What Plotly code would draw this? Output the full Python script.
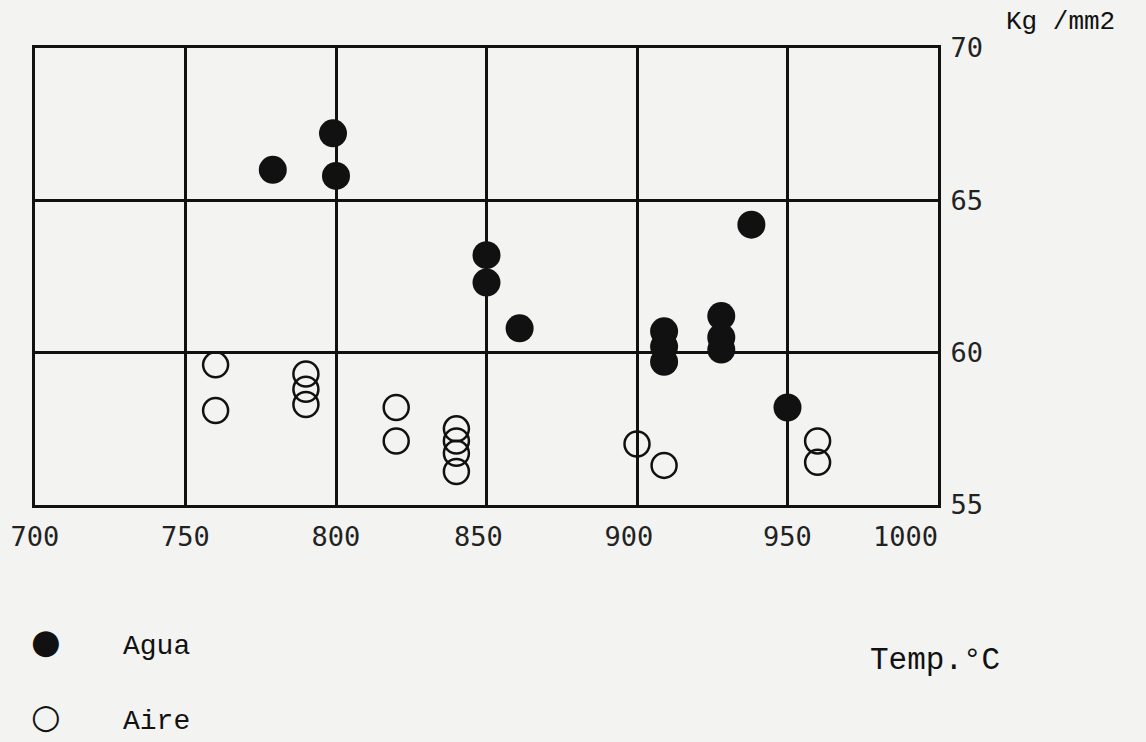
import plotly.graph_objects as go

# Data
agua_temp = [779, 799, 800, 850, 850, 861, 909, 909, 909, 928, 928, 928, 938, 950]
agua_kg = [66.0, 67.2, 65.8, 63.2, 62.3, 60.8, 60.7, 60.2, 59.7, 61.2, 60.5, 60.1, 64.2, 58.2]

aire_temp = [760, 760, 790, 790, 790, 820, 820, 840, 840, 840, 840, 900, 909, 960, 960]
aire_kg = [59.6, 58.1, 59.3, 58.8, 58.3, 58.2, 57.1, 57.5, 57.1, 56.7, 56.1, 57.0, 56.3, 57.1, 56.4]

x_ticks = [700, 750, 800, 850, 900, 950, 1000]
x_tick_labels = ["700", "750", "800", "850\u00a0", "900\u00a0", "950", "1000\u00a0\u00a0\u00a0\u00a0"]
y_ticks = [55, 60, 65, 70]
y_tick_labels = ["55", "60", "65", "70"]

series_names = ["Agua", "Aire"]
series_glyphs = ["\u25cf", "\u25cb"]

BG = "#f3f3f1"
INK = "#111111"
TYPE_FONT = "Liberation Mono"
NUM_FONT = "DejaVu Sans Mono"

# plot area in pixels: left 35, bottom 505, width 903, height 457
PL, PB, PW, PH = 35, 505, 903, 457


def px_x(p):
    return (p - PL) / PW


def px_y(p):
    return (PB - p) / PH


fig = go.Figure()
fig.add_trace(go.Scatter(
    x=agua_temp, y=agua_kg, mode="markers", name=series_names[0],
    marker=dict(symbol="circle", size=28, color=INK, line=dict(width=0)),
))
fig.add_trace(go.Scatter(
    x=aire_temp, y=aire_kg, mode="markers", name=series_names[1],
    marker=dict(symbol="circle-open", size=25, color=INK, line=dict(width=2.5, color=INK)),
))

# Legend drawn as text below the plot
legend_rows_px = [644, 719]
legend_annotations = []
for name, glyph, row in zip(series_names, series_glyphs, legend_rows_px):
    legend_annotations.append(dict(
        text=glyph, xref="paper", yref="paper", x=px_x(46), y=px_y(row - 3),
        xanchor="center", yanchor="middle", showarrow=False,
        font=dict(family="DejaVu Sans", size=34, color=INK)))
    legend_annotations.append(dict(
        text=name, xref="paper", yref="paper", x=px_x(121), y=px_y(row + 2),
        xanchor="left", yanchor="middle", showarrow=False,
        font=dict(family=TYPE_FONT, size=28, color=INK)))

fig.update_layout(
    width=1146, height=742,
    margin=dict(l=PL, r=1146 - PL - PW, t=PB - PH, b=742 - PB),
    paper_bgcolor=BG, plot_bgcolor=BG,
    showlegend=False,
    xaxis=dict(
        range=[700, 1000], tickvals=x_ticks, ticktext=x_tick_labels,
        showgrid=True, gridcolor=INK, gridwidth=2.8,
        showline=True, linecolor=INK, linewidth=3, mirror=True,
        ticks="", zeroline=False,
        tickfont=dict(family=NUM_FONT, size=27, color="#222222"),
        ticklabelstandoff=6,
    ),
    yaxis=dict(
        range=[55, 70], tickvals=y_ticks, ticktext=y_tick_labels,
        side="right",
        showgrid=True, gridcolor=INK, gridwidth=2.8,
        showline=True, linecolor=INK, linewidth=3, mirror=True,
        ticks="", zeroline=False,
        tickfont=dict(family=NUM_FONT, size=27, color="#222222"),
        ticklabelstandoff=4,
    ),
    annotations=legend_annotations + [
        dict(text="Kg /mm2", xref="paper", yref="paper", x=px_x(1004), y=px_y(22),
             xanchor="left", yanchor="middle", showarrow=False,
             font=dict(family=TYPE_FONT, size=26, color=INK)),
        dict(text="Temp.°C", xref="paper", yref="paper", x=px_x(868), y=px_y(660),
             xanchor="left", yanchor="middle", showarrow=False,
             font=dict(family=TYPE_FONT, size=31, color=INK)),
    ],
)

fig.write_html(
    "out.html",
    config={"displayModeBar": False},
    post_script="document.body.style.margin='0';document.body.style.background='#f3f3f1';document.body.style.overflow='hidden';",
)
